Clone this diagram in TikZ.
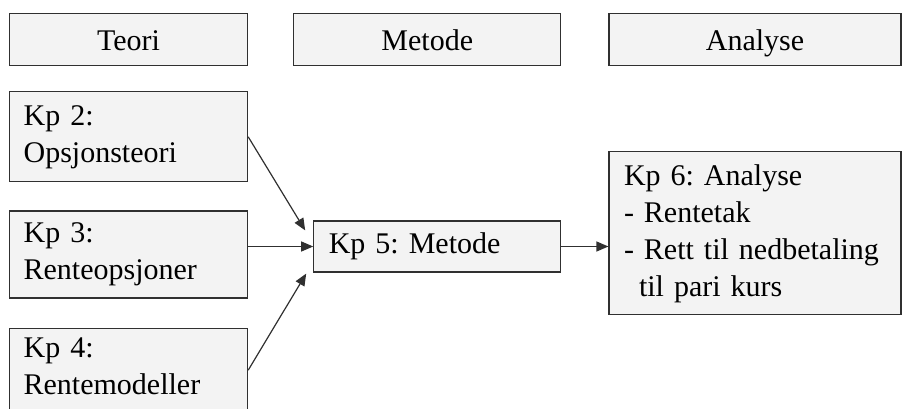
\documentclass[tikz,border=0pt]{standalone}
\usepackage{fontspec}
\setmainfont{Liberation Serif}
\usetikzlibrary{arrows.meta,positioning,calc}
\definecolor{boxfill}{HTML}{F3F3F3}
\definecolor{boxline}{HTML}{303030}
\newcommand\boxfont{\fontsize{30pt}{37pt}\selectfont\frenchspacing}

\begin{document}
\begin{tikzpicture}[
  x=1pt, y=-1pt,
  hdr/.style={draw=boxline, fill=boxfill, line width=1.2pt, minimum height=52pt, inner sep=0pt, text height=22pt, text depth=0pt, font=\boxfont},
  kp/.style={draw=boxline, fill=boxfill, line width=1.2pt, align=left, inner xsep=14pt, inner ysep=0pt, text width=210pt, minimum height=90pt, font=\boxfont},
  arr/.style={-{Triangle[length=12pt,width=10pt]}, line width=1.2pt, draw=boxline}
]
\clip (0,0) rectangle (902,409);
% headers
\node[hdr, anchor=north west, minimum width=238pt] (teori) at (9,13) {Teori};
\node[hdr, right=45pt of teori, minimum width=267pt] (metode) {Metode};
\node[hdr, right=47pt of metode, minimum width=292pt] (analyse) {Analyse};
% chapters
\node[kp, below=25pt of teori] (k2) {Kp 2:\\Opsjonsteori};
\node[kp, below=28pt of k2, minimum height=87pt] (k3) {Kp 3:\\Renteopsjoner};
\node[kp, below=29pt of k3, minimum height=84pt] (k4) {Kp 4:\\Rentemodeller\rule[-8pt]{0pt}{8pt}};
\node[kp, right=65pt of k3, yshift=8pt, inner xsep=15pt, text width=217pt, minimum height=51pt] (m5) {Kp 5: Metode};
\node[kp, below=85pt of analyse, inner xsep=15pt, text width=262pt, minimum height=163pt] (k6)
  {Kp 6: Analyse\\- Rentetak\\- Rett til nedbetaling\\\hspace*{15pt}til pari kurs};
% arrows
\coordinate (in2) at ($(m5.north west)+(-8,10)$);
\coordinate (in4) at ($(m5.south west)+(-7,1)$);
\draw[arr] (k2.east) -- (in2);
\draw[arr] (k3.east |- m5.west) -- (m5.west);
\draw[arr] (k4.east) -- (in4);
\draw[arr] (m5.east) -- (m5.east -| k6.west);
\end{tikzpicture}
\end{document}
